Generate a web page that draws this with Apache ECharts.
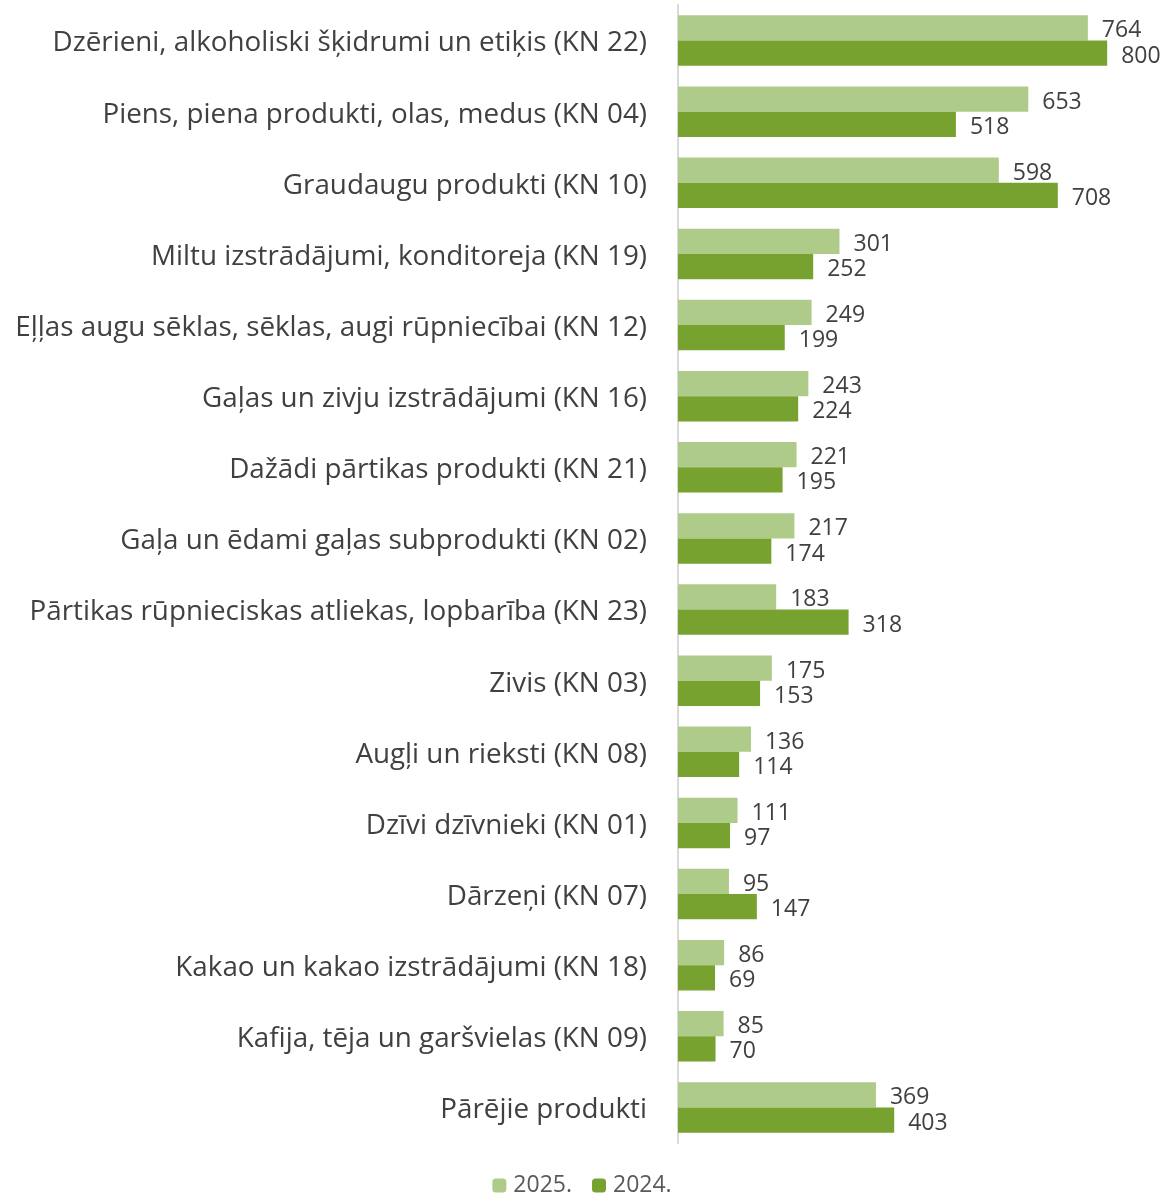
<!DOCTYPE html>
<html>
<head>
<meta charset="utf-8">
<script src="https://cdn.jsdelivr.net/npm/echarts@6/dist/echarts.min.js"></script>
<style>
  html, body { margin: 0; padding: 0; background: #fff; }
  #main { width: 1164px; height: 1193px; }
</style>
</head>
<body>
<div id="main"></div>
<script>
var categories = [
  'Dzērieni, alkoholiski šķidrumi un etiķis (KN 22)',
  'Piens, piena produkti, olas, medus (KN 04)',
  'Graudaugu produkti (KN 10)',
  'Miltu izstrādājumi, konditoreja (KN 19)',
  'Eļļas augu sēklas, sēklas, augi rūpniecībai (KN 12)',
  'Gaļas un zivju izstrādājumi (KN 16)',
  'Dažādi pārtikas produkti (KN 21)',
  'Gaļa un ēdami gaļas subprodukti (KN 02)',
  'Pārtikas rūpnieciskas atliekas, lopbarība (KN 23)',
  'Zivis (KN 03)',
  'Augļi un rieksti (KN 08)',
  'Dzīvi dzīvnieki (KN 01)',
  'Dārzeņi (KN 07)',
  'Kakao un kakao izstrādājumi (KN 18)',
  'Kafija, tēja un garšvielas (KN 09)',
  'Pārējie produkti'
]
var values2025 = [764, 653, 598, 301, 249, 243, 221, 217, 183, 175, 136, 111, 95, 86, 85, 369]
var values2024 = [800, 518, 708, 252, 199, 224, 195, 174, 318, 153, 114, 97, 147, 69, 70, 403]

var font = '"Open Sans", "Noto Sans", sans-serif'
var chart = echarts.init(document.getElementById('main'))

var labelStyle = {
  show: true,
  position: 'right',
  distance: 14,
  offset: [0, 3],
  color: '#404040',
  fontSize: 23,
  fontFamily: font
}

chart.setOption({
  animation: false,
  grid: { left: 678, right: 30, top: 5, bottom: 50 },
  legend: {
    top: 1169,
    left: 'center',
    itemWidth: 14,
    itemHeight: 14,
    itemGap: 20,
    textStyle: { color: '#595959', fontSize: 23, fontFamily: font, padding: [0, 0, 0, 2] },
    data: ['2025.', '2024.']
  },
  xAxis: {
    type: 'value',
    min: 0,
    max: 850,
    show: false
  },
  yAxis: {
    type: 'category',
    inverse: true,
    data: categories,
    axisLine: { lineStyle: { color: '#d9d9d9', width: 2 } },
    axisTick: { show: false },
    axisLabel: {
      margin: 31,
      formatter: '{a|{value}}',
      rich: {
        a: { color: '#404040', fontSize: 27.8, fontFamily: font, padding: [6, 0, 0, 0] }
      }
    }
  },
  series: [
    {
      name: '2025.',
      type: 'bar',
      data: values2025,
      barGap: '0%',
      barCategoryGap: '29%',
      itemStyle: { color: '#afcb8a' },
      label: labelStyle
    },
    {
      name: '2024.',
      type: 'bar',
      data: values2024,
      barGap: '0%',
      barCategoryGap: '29%',
      itemStyle: { color: '#78a22f' },
      label: labelStyle
    }
  ]
})
</script>
</body>
</html>
